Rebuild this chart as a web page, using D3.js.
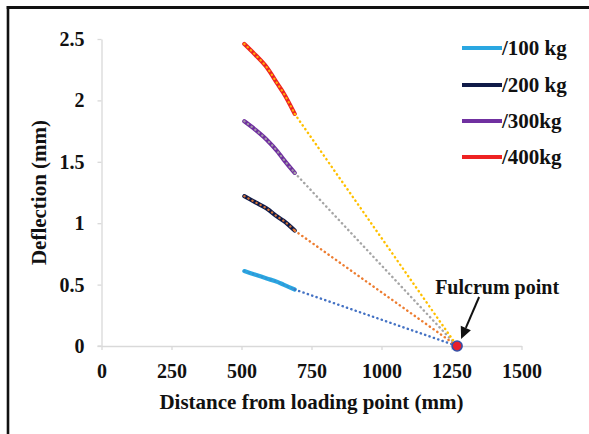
<!DOCTYPE html>
<html>
<head>
<meta charset="utf-8">
<script src="https://cdn.jsdelivr.net/npm/d3@7"></script>
<style>
  html, body { margin: 0; padding: 0; background: #fff; }
  svg { display: block; }
  text { font-family: "Liberation Serif", "Times New Roman", serif; font-weight: bold; fill: #111; }
</style>
</head>
<body>
<svg id="chart" width="589" height="434"></svg>
<script>
// ---- data ----
const distances = [510, 550, 590, 630, 650, 690];
const series100 = [0.61, 0.58, 0.55, 0.52, 0.50, 0.46];
const series200 = [1.22, 1.17, 1.12, 1.05, 1.02, 0.94];
const series300 = [1.83, 1.76, 1.68, 1.58, 1.52, 1.41];
const series400 = [2.46, 2.37, 2.27, 2.13, 2.06, 1.89];
const seriesNames = ["/100 kg", "/200 kg", "/300kg", "/400kg"];
const lineColors = ["#2aa7e1", "#0f1a48", "#7030a0", "#ee2222"];
const dotColors = ["#4472c4", "#ed7d31", "#a5a5a5", "#ffc000"];
const fulcrum = { x: 1270, y: 0 };
const xTicks = [0, 250, 500, 750, 1000, 1250, 1500];
const yTicks = [0, 0.5, 1, 1.5, 2, 2.5];

const allSeries = [series100, series200, series300, series400];

const svg = d3.select("#chart");
const W = 589, H = 434;

// frame (left + top border)
svg.append("line").attr("x1", 8).attr("x2", 8).attr("y1", 6).attr("y2", H)
  .attr("stroke", "#111").attr("stroke-width", 2.6);
svg.append("line").attr("x1", 6.7).attr("x2", W).attr("y1", 7.5).attr("y2", 7.5)
  .attr("stroke", "#111").attr("stroke-width", 3);

const x = d3.scaleLinear().domain([0, 1500]).range([101.5, 521.5]);
const y = d3.scaleLinear().domain([0, 2.5]).range([346, 39]);

// axes
const xAxis = svg.append("g").attr("transform", `translate(0,${y(0)})`)
  .call(d3.axisBottom(x).tickValues(xTicks).tickFormat(d3.format("d")).tickSizeInner(4).tickSizeOuter(0).tickPadding(14));
const yAxis = svg.append("g").attr("transform", `translate(${x(0)},0)`)
  .call(d3.axisLeft(y).tickValues(yTicks).tickFormat(d => d).tickSizeInner(4).tickSizeOuter(0).tickPadding(13));
[xAxis, yAxis].forEach(g => {
  g.select(".domain").attr("stroke", "#d9d9d9").attr("stroke-width", 1.3);
  g.selectAll(".tick line").attr("stroke", "#d9d9d9").attr("stroke-width", 1.3);
  g.selectAll(".tick text").attr("font-size", 20).attr("font-family", "Liberation Serif, Times New Roman, serif")
    .attr("font-weight", "bold").attr("fill", "#111");
});
// extend x-axis a bit left like reference
svg.append("line").attr("x1", x(0) - 4).attr("x2", x(0)).attr("y1", y(0)).attr("y2", y(0))
  .attr("stroke", "#d9d9d9").attr("stroke-width", 1.3);

// axis titles
svg.append("text").attr("x", (x(0) + x(1500)) / 2).attr("y", 409)
  .attr("text-anchor", "middle").attr("font-size", 21).text("Distance from loading point (mm)");
svg.append("text").attr("transform", `translate(46,${(y(0) + y(2.5)) / 2}) rotate(-90)`)
  .attr("text-anchor", "middle").attr("font-size", 21).text("Deflection (mm)");

const lineGen = d3.line().x(d => x(d[0])).y(d => y(d[1])).curve(d3.curveMonotoneX);
const straight = d3.line().x(d => x(d[0])).y(d => y(d[1]));

// solid lines
allSeries.forEach((s, i) => {
  const pts = distances.map((d, j) => [d, s[j]]);
  svg.append("path").attr("d", lineGen(pts)).attr("fill", "none")
    .attr("stroke", lineColors[i]).attr("stroke-width", 4.2).attr("stroke-linecap", "round");
});

// dotted extensions (overlaying the data and running to the fulcrum)
allSeries.forEach((s, i) => {
  const pts = distances.map((d, j) => [d, s[j]]);
  svg.append("path").attr("d", lineGen(pts)).attr("fill", "none")
    .attr("stroke", dotColors[i]).attr("stroke-width", 2.2).attr("stroke-linecap", "round")
    .attr("stroke-dasharray", "0.3 4.3").attr("opacity", i === 0 ? 0.35 : 0.9);
  const last = pts[pts.length - 1];
  svg.append("path").attr("d", straight([last, [fulcrum.x, fulcrum.y]])).attr("fill", "none")
    .attr("stroke", dotColors[i]).attr("stroke-width", 2.4).attr("stroke-linecap", "round")
    .attr("stroke-dasharray", "0.3 4.3");
});

// fulcrum marker
const fx = x(fulcrum.x), fy = y(fulcrum.y);
svg.append("circle").attr("cx", fx).attr("cy", fy).attr("r", 5)
  .attr("fill", "#e8202a").attr("stroke", "#3350a8").attr("stroke-width", 1.6);

// arrow annotation
const ax1 = fx + 22, ay1 = fy - 49, ax2 = fx + 4, ay2 = fy - 7;
const ang = Math.atan2(ay2 - ay1, ax2 - ax1);
const hl = 12, hw = 5.5;
const bx = ax2 - hl * Math.cos(ang), by = ay2 - hl * Math.sin(ang);
svg.append("line").attr("x1", ax1).attr("y1", ay1).attr("x2", bx).attr("y2", by)
  .attr("stroke", "#111").attr("stroke-width", 2);
svg.append("path").attr("d", `M${ax2},${ay2} L${bx + hw * Math.sin(ang)},${by - hw * Math.cos(ang)} L${bx - hw * Math.sin(ang)},${by + hw * Math.cos(ang)} Z`)
  .attr("fill", "#111");
svg.append("text").attr("x", fx + 40).attr("y", 294).attr("text-anchor", "middle")
  .attr("font-size", 20).text("Fulcrum point");

// legend
const legendY = [48, 85, 121, 157];
seriesNames.forEach((name, i) => {
  svg.append("line").attr("x1", 462).attr("x2", 502).attr("y1", legendY[i]).attr("y2", legendY[i])
    .attr("stroke", lineColors[i]).attr("stroke-width", 4);
  svg.append("text").attr("x", 502).attr("y", legendY[i] + 7).attr("font-size", 21).text(name);
});
</script>
</body>
</html>
